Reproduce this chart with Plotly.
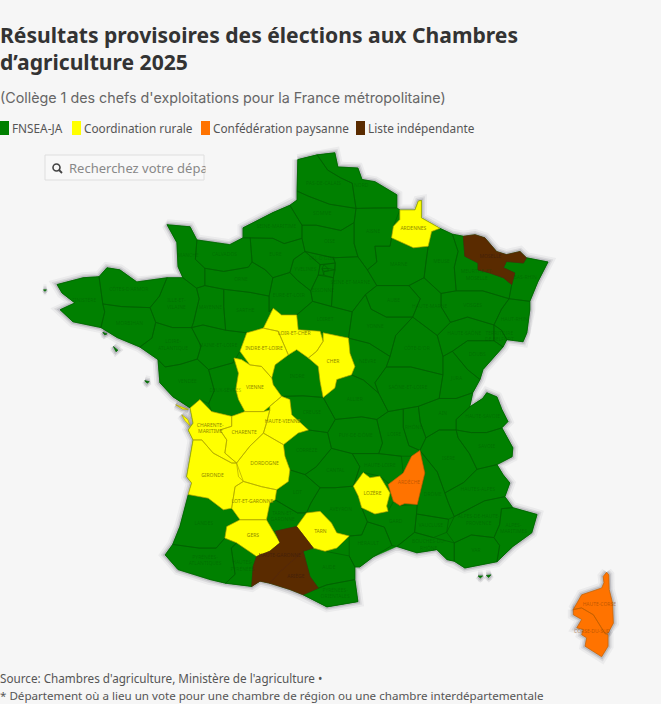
import plotly.graph_objects as go

# Résultat par département
fnsea_ja = [
    "Nord", "Pas-de-Calais", "Somme", "Aisne", "Oise", "Seine-Maritime", "Eure", "Calvados", "Manche", "Orne",
    "Ille-et-Vilaine", "Côtes-d'Armor", "Finistère", "Morbihan", "Loire-Atlantique", "Vendée", "Maine-et-Loire",
    "Mayenne", "Sarthe", "Deux-Sèvres", "Landes", "Pyrénées-Atlantiques", "Hautes-Pyrénées", "Tarn-et-Garonne",
    "Lot", "Corrèze", "Creuse", "Indre", "Allier", "Puy-de-Dôme", "Cantal", "Haute-Loire", "Aveyron", "Aude",
    "Pyrénées-Orientales", "Hérault", "Gard", "Bouches-du-Rhône", "Var", "Alpes-Maritimes",
    "Alpes-de-Haute-Provence", "Hautes-Alpes", "Vaucluse", "Drôme", "Isère", "Savoie", "Haute-Savoie", "Ain",
    "Rhône", "Loire", "Saône-et-Loire", "Nièvre", "Côte-d'Or", "Jura", "Doubs", "Haute-Saône",
    "Territoire de Belfort", "Haut-Rhin", "Bas-Rhin", "Vosges", "Meurthe-et-Moselle", "Meuse", "Marne", "Aube",
    "Haute-Marne", "Yonne", "Loiret", "Eure-et-Loir", "Seine-et-Marne", "Yvelines", "Val-d'Oise", "Essonne",
]
coordination_rurale = [
    "Ardennes", "Loir-et-Cher", "Indre-et-Loire", "Cher", "Vienne", "Haute-Vienne", "Charente", "Charente-Maritime",
    "Gironde", "Dordogne", "Lot-et-Garonne", "Gers", "Tarn", "Lozère",
]
confederation_paysanne = ["Ardèche", "Haute-Corse", "Corse-du-Sud"]
liste_independante = ["Moselle", "Haute-Garonne", "Ariège"]
petite_couronne = ["Seine-Saint-Denis", "Paris", "Hauts-de-Seine", "Val-de-Marne"]

# Contour de la France continentale (lon, lat)
contour_france = [
    (1.61,50.95),(2.12,51.04),(2.59,51.08),(2.67,50.81),(3.20,50.79),(3.31,50.57),(3.65,50.53),(4.23,50.28),
    (4.23,50.03),(4.31,49.99),(4.71,49.99),(4.80,50.16),(4.88,50.17),(4.88,49.84),(5.37,49.64),(5.70,49.53),
    (5.99,49.49),(6.30,49.52),(6.56,49.46),(6.87,49.20),(7.13,49.14),(7.49,49.20),(7.66,49.08),(8.23,49.00),
    (7.96,48.62),(7.75,48.25),(7.75,48.09),(7.67,47.65),(7.57,47.48),(7.14,47.52),(7.04,47.38),(6.51,46.95),
    (6.43,46.76),(6.24,46.51),(6.16,46.24),(6.50,46.40),(6.61,46.51),(6.88,46.43),(7.01,46.19),(7.17,45.96),
    (7.01,45.84),(7.30,45.46),(7.28,45.29),(6.88,45.14),(7.04,44.95),(7.22,44.79),(7.09,44.53),(7.30,44.32),
    (7.94,44.19),(7.80,43.84),(7.30,43.58),(6.88,43.29),(6.03,43.17),(5.75,43.30),(5.56,43.33),(5.29,43.52),
    (4.76,43.46),(4.23,43.58),(3.60,43.38),(3.25,43.19),(3.12,43.19),(3.12,42.95),(3.20,42.53),(2.38,42.43),
    (1.75,42.66),(1.40,42.76),(.87,42.88),(.61,42.92),(.39,42.82),(-.30,42.88),(-.71,42.95),(-1.56,43.14),
    (-1.90,43.42),(-1.70,43.62),(-1.51,43.96),(-1.29,44.57),(-1.20,44.79),(-1.33,44.91),(-1.16,45.61),
    (-1.29,45.80),(-1.16,45.93),(-1.24,46.22),(-1.69,46.43),(-2.04,46.70),(-2.09,47.14),(-2.57,47.38),
    (-3.17,47.56),(-3.60,47.75),(-4.34,47.86),(-4.68,48.09),(-4.29,48.22),(-4.63,48.41),(-4.76,48.57),
    (-4.07,48.70),(-3.65,48.72),(-3.44,48.89),(-3.10,48.85),(-2.65,48.62),(-1.85,48.70),(-1.43,48.70),
    (-1.56,48.91),(-1.59,49.37),(-1.85,49.71),(-1.24,49.67),(-1.06,49.42),(-.19,49.33),(.16,49.46),(.16,49.65),
    (.95,49.94),(1.40,50.08),(1.59,50.18),(1.59,50.35),
]

# Contours simplifiés des départements (lon, lat)
contours = {
    "Nord": [(2.12,51.04),(2.59,51.08),(2.67,50.81),(3.20,50.79),(3.31,50.57),(3.65,50.53),(4.23,50.28),(4.23,50.03),(3.60,50.03),(3.15,50.02),(3.10,50.25),(3.05,50.50),(2.75,50.60),(2.40,50.75)],
    "Pas-de-Calais": [(1.61,50.95),(2.12,51.04),(2.40,50.75),(2.75,50.60),(3.05,50.50),(3.10,50.25),(3.15,50.02),(2.45,50.10),(1.90,50.25),(1.59,50.35)],
    "Somme": [(1.59,50.35),(1.90,50.25),(2.45,50.10),(3.15,50.02),(3.10,49.75),(2.75,49.60),(2.10,49.70),(1.72,49.70),(1.40,50.08),(1.59,50.18)],
    "Aisne": [(3.15,50.02),(3.60,50.03),(4.23,50.03),(4.31,49.99),(4.14,49.68),(4.09,49.46),(4.05,49.30),(3.65,49.30),(3.70,49.00),(3.45,48.85),(3.20,49.10),(3.10,49.35),(3.10,49.75)],
    "Oise": [(1.72,49.70),(2.10,49.70),(2.75,49.60),(3.10,49.75),(3.10,49.35),(3.20,49.10),(2.55,49.08),(1.80,49.20),(1.72,49.45)],
    "Seine-Maritime": [(.16,49.65),(.95,49.94),(1.40,50.08),(1.72,49.70),(1.72,49.45),(1.25,49.35),(.95,49.45),(.35,49.46),(.16,49.46)],
    "Eure": [(.35,49.46),(.95,49.45),(1.25,49.35),(1.72,49.45),(1.80,49.20),(1.50,49.05),(1.40,48.80),(.95,48.70),(.75,48.85),(.40,49.00)],
    "Calvados": [(-1.06,49.42),(-.19,49.33),(.16,49.46),(.35,49.46),(.40,49.00),(.30,48.90),(-.35,48.82),(-.85,48.88),(-1.10,49.05)],
    "Manche": [(-1.24,49.67),(-1.85,49.71),(-1.59,49.37),(-1.56,48.91),(-1.43,48.70),(-1.07,48.50),(-.85,48.55),(-.85,48.88),(-1.10,49.05),(-1.06,49.42)],
    "Orne": [(-.85,48.55),(-.35,48.48),(.35,48.42),(.85,48.35),(.95,48.70),(.75,48.85),(.40,49.00),(.30,48.90),(-.35,48.82),(-.85,48.88)],
    "Ille-et-Vilaine": [(-1.43,48.70),(-1.85,48.70),(-2.05,48.35),(-2.30,48.13),(-2.15,47.85),(-1.70,47.75),(-1.20,47.75),(-1.15,47.85),(-1.00,48.30),(-1.07,48.50)],
    "Côtes-d'Armor": [(-1.85,48.70),(-2.65,48.62),(-3.10,48.85),(-3.44,48.89),(-3.65,48.72),(-3.55,48.20),(-3.05,48.15),(-2.30,48.13),(-2.05,48.35)],
    "Finistère": [(-3.65,48.72),(-4.07,48.70),(-4.76,48.57),(-4.63,48.41),(-4.29,48.22),(-4.68,48.09),(-4.34,47.86),(-3.60,47.75),(-3.50,48.05),(-3.55,48.20)],
    "Morbihan": [(-3.60,47.75),(-3.17,47.56),(-2.57,47.38),(-2.25,47.55),(-2.15,47.85),(-2.30,48.13),(-3.05,48.15),(-3.55,48.20),(-3.50,48.05)],
    "Loire-Atlantique": [(-2.57,47.38),(-2.09,47.14),(-1.90,47.00),(-1.50,47.05),(-1.05,47.15),(-.95,47.40),(-1.20,47.75),(-1.70,47.75),(-2.15,47.85),(-2.25,47.55)],
    "Vendée": [(-2.09,47.14),(-2.04,46.70),(-1.69,46.43),(-1.24,46.22),(-.98,46.38),(-.75,46.30),(-.60,46.55),(-.75,46.95),(-1.05,47.15),(-1.50,47.05),(-1.90,47.00)],
    "Maine-et-Loire": [(-1.20,47.75),(-.95,47.40),(-1.05,47.15),(-.75,46.95),(-.10,47.08),(.08,47.30),(.26,47.65),(-.30,47.70),(-.90,47.80)],
    "Mayenne": [(-1.07,48.50),(-.85,48.55),(-.35,48.48),(-.35,48.15),(-.30,47.70),(-.90,47.80),(-1.20,47.75),(-1.15,47.85),(-1.00,48.30)],
    "Sarthe": [(-.35,48.48),(.35,48.42),(.85,48.35),(.85,48.05),(.96,48.12),(.70,47.74),(.26,47.65),(-.30,47.70),(-.35,48.15)],
    "Deux-Sèvres": [(-.75,46.95),(-.60,46.55),(-.75,46.30),(-.67,46.15),(-.14,46.06),(.21,46.15),(.04,46.38),(-.03,46.57),(.04,46.88),(-.08,47.17),(-.10,47.08)],
    "Landes": [(-1.29,44.57),(-.76,44.50),(-.36,44.28),(-.14,44.31),(.08,44.09),(-.27,43.96),(-.32,43.74),(-.55,43.55),(-1.00,43.55),(-1.70,43.62),(-1.51,43.96)],
    "Pyrénées-Atlantiques": [(-1.90,43.42),(-1.70,43.62),(-1.00,43.55),(-.55,43.55),(-.32,43.74),(-.01,43.65),(-.15,43.55),(-.05,43.05),(-.30,42.88),(-.71,42.95),(-1.56,43.14)],
    "Hautes-Pyrénées": [(-.15,43.55),(-.01,43.65),(.52,43.39),(.43,43.20),(.39,42.82),(-.30,42.88),(-.05,43.05)],
    "Tarn-et-Garonne": [(.78,44.09),(.87,44.41),(1.01,44.47),(1.60,44.22),(1.84,44.22),(1.58,43.96),(1.01,43.87),(.96,43.87)],
    "Lot": [(1.05,44.66),(1.36,44.82),(1.40,45.04),(1.80,44.95),(2.20,44.70),(1.95,44.40),(1.84,44.22),(1.60,44.22),(1.01,44.47)],
    "Corrèze": [(1.27,45.30),(1.23,45.52),(1.62,45.74),(1.89,45.80),(2.40,45.75),(2.50,45.45),(2.10,45.10),(1.80,44.95),(1.40,45.04)],
    "Creuse": [(1.18,46.44),(1.40,46.38),(1.45,46.09),(1.89,45.80),(2.40,45.75),(2.60,46.00),(2.28,46.42),(1.75,46.45)],
    "Indre": [(.92,46.79),(1.01,47.04),(1.36,47.23),(1.58,47.33),(1.89,47.17),(2.15,47.01),(2.20,46.72),(2.28,46.42),(1.75,46.45),(1.18,46.44),(.96,46.66)],
    "Allier": [(2.28,46.42),(2.59,46.60),(2.64,46.76),(3.03,46.85),(3.35,46.75),(3.75,46.50),(4.00,46.15),(3.70,46.00),(3.30,46.05),(2.60,46.00)],
    "Puy-de-Dôme": [(2.40,45.75),(2.60,46.00),(3.30,46.05),(3.70,46.00),(3.85,45.55),(3.75,45.35),(3.05,45.35),(2.50,45.45)],
    "Cantal": [(2.10,45.10),(2.50,45.45),(3.05,45.35),(3.25,45.10),(3.08,44.73),(2.60,44.70),(2.20,44.70),(1.80,44.95)],
    "Haute-Loire": [(3.05,45.35),(3.75,45.35),(4.35,45.30),(4.40,44.98),(4.05,44.76),(3.78,44.92),(3.34,44.99),(3.08,44.73),(3.25,45.10)],
    "Aveyron": [(1.95,44.40),(2.20,44.70),(2.60,44.70),(3.08,44.73),(3.21,44.54),(3.30,44.32),(3.45,44.05),(3.30,43.80),(2.97,43.78),(2.64,43.84),(2.50,44.03),(2.20,44.25),(1.84,44.22)],
    "Aude": [(1.75,43.49),(2.02,43.55),(2.33,43.49),(2.97,43.40),(3.12,43.19),(3.12,42.95),(2.38,42.85),(2.15,42.79),(1.93,43.01)],
    "Pyrénées-Orientales": [(1.75,42.66),(2.15,42.79),(2.38,42.85),(3.12,42.95),(3.20,42.53),(2.38,42.43)],
    "Hérault": [(2.97,43.40),(2.97,43.78),(3.30,43.80),(3.45,44.05),(3.90,43.95),(4.10,43.60),(3.60,43.38),(3.25,43.19),(3.12,43.19)],
    "Gard": [(3.30,44.32),(3.65,44.20),(4.00,44.25),(4.14,44.44),(4.31,44.36),(4.77,44.38),(4.75,44.20),(4.70,43.85),(4.23,43.58),(4.10,43.60),(3.90,43.95),(3.45,44.05)],
    "Bouches-du-Rhône": [(4.23,43.58),(4.76,43.46),(5.29,43.52),(5.56,43.33),(5.75,43.30),(5.75,43.65),(5.20,43.75),(4.70,43.85)],
    "Var": [(5.75,43.30),(6.03,43.17),(6.88,43.29),(6.95,43.60),(6.80,43.75),(6.20,43.80),(5.75,43.65)],
    "Alpes-Maritimes": [(6.88,43.29),(7.30,43.58),(7.80,43.84),(7.94,44.19),(7.30,44.32),(7.00,44.30),(6.95,44.00),(6.80,43.75),(6.95,43.60)],
    "Alpes-de-Haute-Provence": [(5.75,43.65),(6.20,43.80),(6.80,43.75),(6.95,44.00),(7.00,44.30),(7.30,44.32),(7.09,44.53),(6.55,44.45),(6.15,44.30),(5.75,44.15),(5.55,43.85)],
    "Hautes-Alpes": [(5.60,44.40),(5.75,44.15),(6.15,44.30),(6.55,44.45),(7.09,44.53),(7.22,44.79),(7.04,44.95),(6.88,45.14),(6.35,45.05),(6.00,44.80),(5.50,44.60)],
    "Vaucluse": [(4.75,44.20),(5.60,44.10),(5.55,43.85),(5.20,43.75),(4.70,43.85)],
    "Drôme": [(4.77,44.38),(4.97,44.98),(4.84,45.41),(5.30,45.00),(5.50,44.60),(5.60,44.40),(5.75,44.15),(5.60,44.10),(4.75,44.20)],
    "Isère": [(4.84,45.41),(5.00,45.65),(5.35,45.80),(5.80,45.80),(5.85,45.65),(6.15,45.35),(6.35,45.05),(6.00,44.80),(5.50,44.60),(5.30,45.00)],
    "Savoie": [(5.85,45.65),(5.80,45.80),(6.20,45.75),(6.60,45.75),(7.01,45.84),(7.30,45.46),(7.28,45.29),(6.88,45.14),(6.35,45.05),(6.15,45.35)],
    "Haute-Savoie": [(5.80,46.00),(6.16,46.24),(6.50,46.40),(6.61,46.51),(6.88,46.43),(7.01,46.19),(7.17,45.96),(7.01,45.84),(6.60,45.75),(6.20,45.75),(5.80,45.80)],
    "Ain": [(4.80,46.25),(5.35,46.40),(5.80,46.40),(6.24,46.51),(6.16,46.24),(5.80,46.00),(5.80,45.80),(5.35,45.80),(5.00,45.65),(4.85,45.95)],
    "Rhône": [(4.40,46.20),(4.80,46.25),(4.85,45.95),(5.00,45.65),(4.84,45.41),(4.55,45.50),(4.40,45.85)],
    "Loire": [(4.00,46.15),(4.40,46.20),(4.40,45.85),(4.55,45.50),(4.84,45.41),(4.62,45.30),(4.35,45.30),(3.75,45.35),(3.85,45.55),(3.70,46.00)],
    "Saône-et-Loire": [(3.65,46.70),(3.95,47.00),(4.60,47.00),(5.45,46.85),(5.35,46.40),(4.80,46.25),(4.40,46.20),(4.00,46.15),(3.75,46.50)],
    "Nièvre": [(3.03,46.85),(3.12,47.01),(2.99,47.26),(2.95,47.55),(3.50,47.45),(4.05,47.20),(3.95,47.00),(3.65,46.70),(3.75,46.50),(3.35,46.75)],
    "Côte-d'Or": [(3.95,47.00),(4.05,47.20),(4.20,47.60),(4.65,47.95),(5.30,47.60),(5.45,47.20),(5.45,46.85),(4.60,47.00)],
    "Jura": [(5.45,46.85),(5.45,47.20),(5.70,47.30),(6.10,46.95),(6.43,46.76),(6.24,46.51),(5.80,46.40),(5.35,46.40)],
    "Doubs": [(5.70,47.30),(6.10,47.50),(6.80,47.50),(7.04,47.38),(6.51,46.95),(6.43,46.76),(6.10,46.95)],
    "Haute-Saône": [(5.30,47.60),(5.65,47.85),(6.10,47.95),(6.80,47.80),(6.80,47.50),(6.10,47.50),(5.70,47.30),(5.45,47.20)],
    "Territoire de Belfort": [(6.80,47.80),(7.00,47.70),(7.14,47.52),(7.04,47.38),(6.80,47.50)],
    "Haut-Rhin": [(7.00,47.70),(6.80,47.80),(7.00,48.10),(7.20,48.30),(7.75,48.25),(7.75,48.09),(7.67,47.65),(7.57,47.48),(7.14,47.52)],
    "Bas-Rhin": [(7.27,48.57),(7.20,48.30),(7.75,48.25),(7.96,48.62),(8.23,49.00),(7.66,49.08),(7.58,48.98),(7.13,49.01),(7.05,48.89),(7.35,48.79)],
    "Vosges": [(5.40,48.40),(5.80,48.45),(6.50,48.45),(7.20,48.30),(7.00,48.10),(6.80,47.80),(6.10,47.95),(5.65,47.85),(5.40,48.15)],
    "Meurthe-et-Moselle": [(5.70,49.53),(5.99,49.49),(6.03,49.11),(6.38,48.98),(6.38,48.85),(6.69,48.79),(7.05,48.70),(7.27,48.57),(7.20,48.30),(6.50,48.45),(5.80,48.45),(5.75,48.90),(5.85,49.20)],
    "Meuse": [(5.15,49.58),(5.37,49.64),(5.70,49.53),(5.85,49.20),(5.75,48.90),(5.80,48.45),(5.40,48.40),(4.95,48.70),(5.00,49.00),(5.06,49.30)],
    "Marne": [(4.09,49.46),(4.40,49.36),(4.67,49.27),(5.06,49.30),(5.00,49.00),(4.95,48.70),(4.55,48.55),(3.70,48.55),(3.45,48.85),(3.70,49.00),(3.65,49.30),(4.05,49.30)],
    "Aube": [(3.40,48.38),(3.70,48.55),(4.55,48.55),(4.85,48.30),(4.65,47.95),(3.95,47.95),(3.55,48.10)],
    "Haute-Marne": [(4.55,48.55),(4.95,48.70),(5.40,48.40),(5.40,48.15),(5.65,47.85),(5.30,47.60),(4.65,47.95),(4.85,48.30)],
    "Yonne": [(2.95,47.55),(3.05,48.05),(3.40,48.38),(3.55,48.10),(3.95,47.95),(4.65,47.95),(4.20,47.60),(4.05,47.20),(3.50,47.45)],
    "Loiret": [(1.62,47.71),(1.58,47.99),(2.00,48.25),(2.50,48.15),(3.05,48.05),(2.95,47.55),(2.28,47.65),(2.20,47.68)],
    "Eure-et-Loir": [(.85,48.35),(.95,48.70),(1.40,48.80),(1.60,48.65),(1.95,48.45),(2.00,48.25),(1.58,47.99),(1.18,47.99),(.96,48.12),(.85,48.05)],
    "Seine-et-Marne": [(2.55,49.08),(3.20,49.10),(3.45,48.85),(3.70,48.55),(3.40,48.38),(3.05,48.05),(2.50,48.15),(2.55,48.70),(2.60,48.98)],
    "Yvelines": [(1.50,49.05),(1.80,49.20),(2.20,48.95),(2.15,48.75),(1.95,48.45),(1.60,48.65),(1.40,48.80)],
    "Val-d'Oise": [(1.80,49.20),(2.55,49.08),(2.60,48.98),(2.20,48.95)],
    "Essonne": [(2.15,48.75),(2.55,48.70),(2.50,48.15),(2.00,48.25),(1.95,48.45)],
    "Seine-Saint-Denis": [(2.30,48.95),(2.60,48.98),(2.60,48.85),(2.40,48.88)],
    "Paris": [(2.25,48.87),(2.40,48.88),(2.42,48.83),(2.30,48.82)],
    "Hauts-de-Seine": [(2.15,48.75),(2.20,48.95),(2.30,48.95),(2.25,48.87),(2.30,48.75)],
    "Val-de-Marne": [(2.30,48.75),(2.30,48.82),(2.42,48.83),(2.60,48.85),(2.55,48.70)],
    "Ardennes": [(4.31,49.99),(4.71,49.99),(4.80,50.16),(4.88,50.17),(4.88,49.84),(5.37,49.64),(5.15,49.58),(5.06,49.30),(4.67,49.27),(4.40,49.36),(4.09,49.46),(4.14,49.68),(4.31,49.81)],
    "Loir-et-Cher": [(.70,47.74),(.96,48.12),(1.18,47.99),(1.58,47.99),(1.62,47.71),(2.20,47.68),(2.28,47.49),(2.11,47.30),(1.89,47.17),(1.58,47.33),(1.36,47.23),(1.09,47.68)],
    "Indre-et-Loire": [(.08,47.30),(.26,47.65),(.70,47.74),(1.09,47.68),(1.36,47.23),(1.01,47.04),(.92,46.79),(.65,47.01),(.34,47.04)],
    "Cher": [(2.28,47.65),(2.95,47.55),(2.99,47.26),(3.12,47.01),(3.03,46.85),(2.64,46.76),(2.59,46.60),(2.28,46.42),(2.20,46.72),(2.15,47.01),(1.89,47.17),(2.11,47.30),(2.28,47.49)],
    "Vienne": [(-.08,47.17),(.12,47.14),(.34,47.04),(.65,47.01),(.92,46.79),(.96,46.66),(1.18,46.44),(.87,46.25),(.70,46.15),(.21,46.15),(.04,46.38),(-.03,46.57),(.04,46.88)],
    "Haute-Vienne": [(.87,46.25),(1.18,46.44),(1.40,46.38),(1.45,46.09),(1.89,45.80),(1.62,45.74),(1.23,45.52),(.70,45.74),(.78,45.93),(.87,46.18)],
    "Charente": [(-.14,46.06),(.21,46.15),(.70,46.15),(.87,46.18),(.78,45.93),(.70,45.74),(.34,45.49),(-.01,45.17),(-.32,45.36),(-.27,45.61),(-.45,45.80),(-.14,45.87)],
    "Charente-Maritime": [(-1.24,46.22),(-.98,46.38),(-.67,46.15),(-.14,46.06),(-.14,45.87),(-.45,45.80),(-.27,45.61),(-.32,45.36),(-.01,45.17),(-.14,45.17),(-.63,45.36),(-.93,45.61),(-1.16,45.61),(-1.29,45.80),(-1.16,45.93)],
    "Gironde": [(-1.16,45.61),(-.93,45.61),(-.63,45.36),(-.14,45.17),(-.01,45.17),(.17,44.82),(-.05,44.72),(-.14,44.31),(-.36,44.28),(-.76,44.50),(-1.29,44.57),(-1.20,44.79),(-1.33,44.91)],
    "Dordogne": [(.70,45.74),(1.23,45.52),(1.27,45.30),(1.40,45.04),(1.36,44.82),(1.05,44.66),(.65,44.72),(.17,44.82),(.04,44.91),(-.01,45.17),(.34,45.49)],
    "Lot-et-Garonne": [(.17,44.82),(.65,44.72),(1.05,44.66),(1.01,44.47),(.87,44.41),(.78,44.09),(.08,44.09),(-.14,44.31),(-.05,44.72)],
    "Gers": [(.08,44.09),(-.27,43.96),(-.32,43.74),(-.01,43.65),(.52,43.39),(.87,43.49),(1.14,43.65),(.96,43.87),(.78,44.09)],
    "Tarn": [(1.58,43.96),(1.84,44.22),(2.20,44.25),(2.50,44.03),(2.64,43.84),(2.97,43.78),(2.64,43.55),(2.33,43.49),(2.02,43.55),(1.71,43.84)],
    "Lozère": [(3.08,44.73),(3.34,44.99),(3.52,44.89),(3.78,44.92),(4.05,44.60),(3.96,44.35),(4.00,44.25),(3.65,44.20),(3.30,44.32),(3.21,44.54)],
    "Ardèche": [(4.84,45.41),(4.97,44.98),(4.77,44.38),(4.44,44.40),(4.31,44.36),(4.14,44.44),(4.00,44.76),(4.40,44.98),(4.62,45.30)],
    "Haute-Corse": [(9.78,43.09),(9.84,43.04),(9.85,42.76),(9.94,42.50),(9.96,42.12),(9.82,41.93),(9.74,41.92),(9.60,42.09),(9.43,42.28),(9.12,42.41),(8.90,42.38),(9.12,42.66),(9.65,42.79),(9.71,42.89),(9.69,43.01)],
    "Corse-du-Sud": [(8.90,42.38),(9.12,42.41),(9.43,42.28),(9.60,42.09),(9.74,41.92),(9.82,41.90),(9.82,41.68),(9.65,41.48),(9.43,41.58),(9.21,41.68),(9.25,41.84),(9.12,41.90),(9.16,42.00),(8.99,42.03),(9.12,42.19),(8.90,42.28)],
    "Moselle": [(5.99,49.49),(6.30,49.52),(6.56,49.46),(6.87,49.20),(7.13,49.14),(7.49,49.20),(7.66,49.08),(7.58,48.98),(7.13,49.01),(7.05,48.89),(7.35,48.79),(7.27,48.57),(7.05,48.70),(6.69,48.79),(6.38,48.85),(6.38,48.98),(6.03,49.11)],
    "Haute-Garonne": [(1.01,43.87),(1.58,43.96),(1.71,43.84),(2.02,43.55),(1.75,43.49),(1.14,43.10),(.87,42.88),(.61,42.92),(.39,42.82),(.43,43.20),(.52,43.39),(.87,43.49),(1.14,43.65)],
    "Ariège": [(1.14,43.10),(1.75,43.49),(1.93,43.01),(2.15,42.79),(1.75,42.66),(1.40,42.76),(.87,42.88)],
}

# Îles, sans étiquette
iles_ja = [
    [(-5.12,48.47),(-5.04,48.47),(-5.08,48.44)],
    [(-3.27,47.39),(-3.15,47.32),(-3.20,47.29)],
    [(-3.55,47.66),(-3.44,47.63),(-3.50,47.61)],
    [(-2.44,46.74),(-2.32,46.72),(-2.38,46.69)],
    [(6.38,43.02),(6.50,43.02),(6.44,42.98)],
    [(6.60,43.03),(6.72,43.04),(6.66,42.99)],
]
iles_cr = [
    [(-1.62,46.28),(-1.45,46.24),(-1.29,46.19),(-1.45,46.20)],
    [(-1.46,46.09),(-1.30,46.00),(-1.24,45.88),(-1.38,45.98)],
]

# Légende
legende = ["FNSEA-JA", "Coordination rurale", "Confédération paysanne", "Liste indépendante"]
couleurs = ["#008000", "#ffff00", "#ff7300", "#5a2b00"]
bordures = ["#006000", "#b0a800", "#c05f00", "#54280a"]
couleurs_etiquettes = ["rgba(0,80,0,0.35)", "#8f8a00", "rgba(150,70,0,0.6)", "#45210a"]
legende_x = [0, 72, 201, 356]

FOND = "#f6f6f6"


def px(x, y):
    # position en pixels de la page vers coordonnées paper
    return x / 661, 1 - y / 704


def anneaux(rings):
    xs, ys = [], []
    for ring in rings:
        xs += [p[0] for p in ring] + [ring[0][0], None]
        ys += [p[1] for p in ring] + [ring[0][1], None]
    return xs, ys


def centre(nom):
    # centroïde de la surface du contour
    ring = contours[nom]
    a = cx = cy = 0
    for (x0, y0), (x1, y1) in zip(ring, ring[1:] + ring[:1]):
        d = x0 * y1 - x1 * y0
        a += d
        cx += (x0 + x1) * d
        cy += (y0 + y1) * d
    return cx / (3 * a), cy / (3 * a)


def etiquette(nom):
    nom = nom.upper()
    if len(nom) > 14:
        if " " in nom:
            debut, fin = nom.split(" ", 1)
            return debut + "<br>" + fin
        if "-" in nom:
            debut, fin = nom.rsplit("-", 1)
            return debut + "-<br>" + fin
    return nom


groupes = [fnsea_ja + petite_couronne, coordination_rurale, confederation_paysanne, liste_independante]
extras = [iles_ja, iles_cr, [], []]

fig = go.Figure()

# Ombre portée autour du territoire
ombre_x, ombre_y = anneaux([contour_france, contours["Haute-Corse"], contours["Corse-du-Sud"]] + iles_ja + iles_cr)
for largeur, alpha in [(11, 0.05), (7, 0.09), (4, 0.15)]:
    fig.add_trace(go.Scatter(x=ombre_x, y=ombre_y, mode="lines", hoverinfo="skip", showlegend=False,
                             line=dict(color="rgba(40,40,60,%s)" % alpha, width=largeur)))

# Fond vert qui bouche les raccords entre contours simplifiés
xs, ys = anneaux([contour_france])
fig.add_trace(go.Scatter(x=xs, y=ys, mode="lines", fill="toself", fillcolor=couleurs[0], hoverinfo="skip",
                         showlegend=False, line=dict(color=couleurs[0], width=0.5)))

for i, noms in enumerate(groupes):
    xs, ys = anneaux([contours[n] for n in noms] + extras[i])
    fig.add_trace(go.Scatter(x=xs, y=ys, mode="lines", fill="toself", fillcolor=couleurs[i],
                             line=dict(color=bordures[i], width=0.7), name=legende[i],
                             hoverinfo="skip", showlegend=False))

# Étiquettes des départements
for i, noms in enumerate(groupes):
    noms = [n for n in noms if n not in petite_couronne]
    fig.add_trace(go.Scatter(x=[centre(n)[0] for n in noms], y=[centre(n)[1] for n in noms],
                             text=[etiquette(n) for n in noms], mode="text", hoverinfo="text", showlegend=False,
                             textfont=dict(size=5, color=couleurs_etiquettes[i], family="Noto Sans")))

shapes = []
annotations = []

titre = "<b>Résultats provisoires des élections aux Chambres<br>d’agriculture 2025</b>"
x, y = px(0, 48.5)
annotations.append(dict(x=x, y=y, xref="paper", yref="paper", xanchor="left", yanchor="middle", align="left",
                        xshift=-2, text=titre, showarrow=False,
                        font=dict(size=21.1, color="#333333", family="Noto Sans")))
x, y = px(0, 98)
annotations.append(dict(x=x, y=y, xref="paper", yref="paper", xanchor="left", yanchor="middle", showarrow=False,
                        xshift=-2, text="(Collège 1 des chefs d'exploitations pour la France métropolitaine)",
                        font=dict(size=14.3, color="#666666", family="Inter")))

# Légende en haut
for nom, couleur, gauche in zip(legende, couleurs, legende_x):
    x0, y0 = px(gauche, 121)
    x1, y1 = px(gauche + 9, 135)
    shapes.append(dict(type="rect", xref="paper", yref="paper", x0=x0, y0=y0, x1=x1, y1=y1,
                       fillcolor=couleur, line=dict(width=0)))
    x, y = px(gauche + 11, 128)
    annotations.append(dict(x=x, y=y, xref="paper", yref="paper", xanchor="left", yanchor="middle", showarrow=False,
                            xshift=-1, text=nom, font=dict(size=11.8, color="#555555", family="Noto Sans")))

# Champ de recherche
x0, y0 = px(45, 155)
x1, y1 = px(204, 180)
shapes.append(dict(type="rect", xref="paper", yref="paper", x0=x0, y0=y0, x1=x1, y1=y1,
                   fillcolor="#f8f8f8", line=dict(color="#dedede", width=1)))
x0, y0 = px(53, 164)
x1, y1 = px(60, 171)
shapes.append(dict(type="circle", xref="paper", yref="paper", x0=x0, y0=y0, x1=x1, y1=y1,
                   line=dict(color="#444444", width=1.6)))
x0, y0 = px(59, 170)
x1, y1 = px(62, 173)
shapes.append(dict(type="line", xref="paper", yref="paper", x0=x0, y0=y0, x1=x1, y1=y1,
                   line=dict(color="#444444", width=1.8)))
x, y = px(69, 168)
annotations.append(dict(x=x, y=y, xref="paper", yref="paper", xanchor="left", yanchor="middle", showarrow=False,
                        xshift=-2, text="Recherchez votre dépa", font=dict(size=13, color="#888888", family="Noto Sans")))
# le texte est coupé au bord du champ
x, y = px(205, 168)
annotations.append(dict(x=x, y=y, xref="paper", yref="paper", xanchor="left", yanchor="middle", showarrow=False,
                        text=" ", width=30, height=18, bgcolor=FOND, borderpad=0))

# Pied de page
x, y = px(0, 678)
annotations.append(dict(x=x, y=y, xref="paper", yref="paper", xanchor="left", yanchor="middle", showarrow=False,
                        xshift=-2, text="Source: Chambres d'agriculture, Ministère de l'agriculture •",
                        font=dict(size=11.7, color="#555555", family="Noto Sans")))
x, y = px(0, 695)
annotations.append(dict(x=x, y=y, xref="paper", yref="paper", xanchor="left", yanchor="middle", showarrow=False,
                        xshift=-2, text="* Département où a lieu un vote pour une chambre de région ou une chambre interdépartementale",
                        font=dict(size=11.6, color="#555555", family="Noto Sans")))

fig.update_layout(
    width=661,
    height=704,
    autosize=False,
    margin=dict(l=0, r=0, t=0, b=0),
    paper_bgcolor=FOND,
    plot_bgcolor=FOND,
    showlegend=False,
    xaxis=dict(range=[-6.27, 11.22], visible=False, fixedrange=True),
    yaxis=dict(range=[40.58, 53.99], visible=False, fixedrange=True),
    shapes=shapes,
    annotations=annotations,
)

fig.write_html("out.html", post_script="document.body.style.margin='0';document.body.style.background='%s';" % FOND,
               config={"displayModeBar": False})
